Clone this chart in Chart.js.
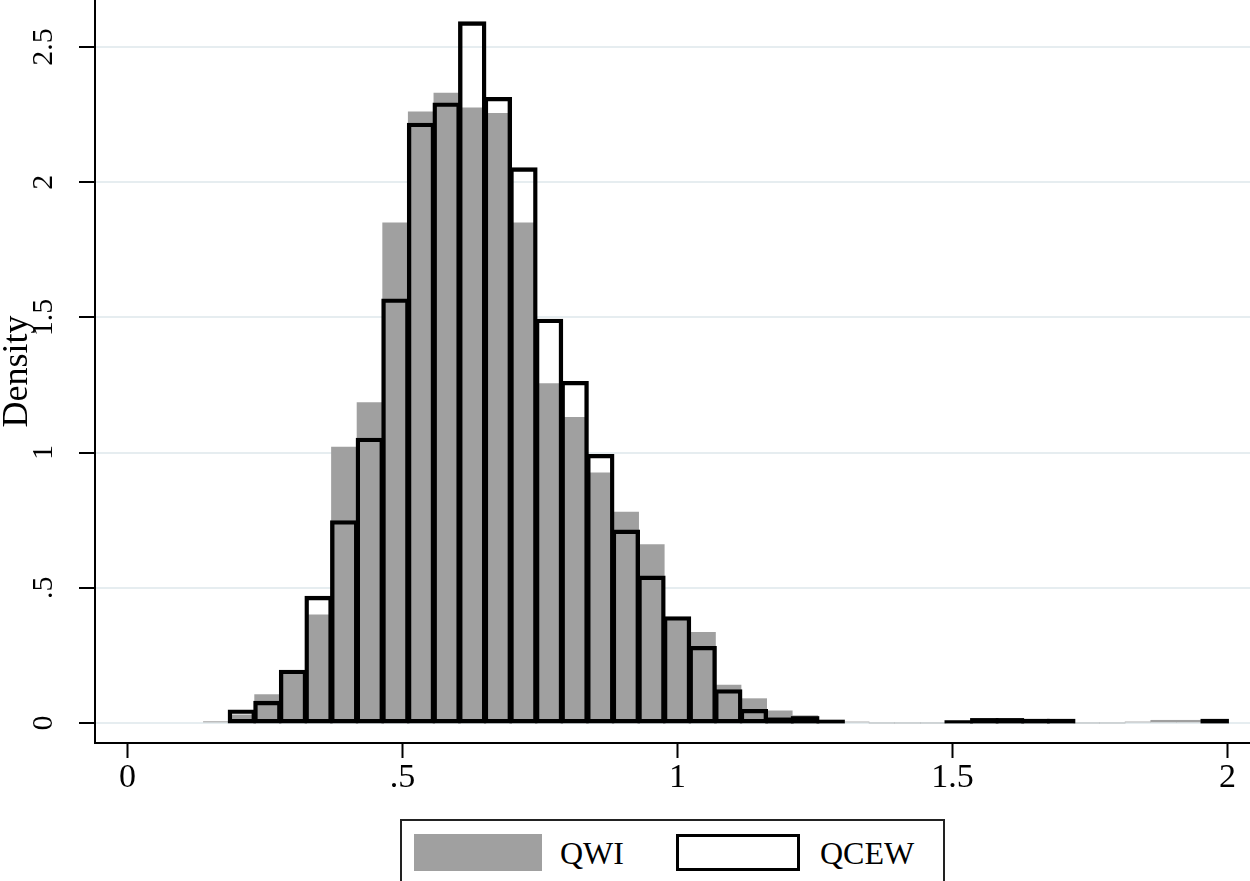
<!DOCTYPE html>
<html lang="en">
<head>
<meta charset="UTF-8">
<title>QWI vs QCEW density</title>
<script src="https://cdn.jsdelivr.net/npm/chart.js"></script>
<style>
  body { margin: 0; background: #fff; overflow: hidden; }
  #wrap { position: relative; width: 1250px; height: 881px; }
  #legend {
    position: absolute; left: 400px; top: 819px; width: 545px; height: 80px;
    border: 2px solid #222; box-sizing: border-box; background: #fff;
    font-family: "Liberation Serif", "Times New Roman", serif; font-size: 32px; color: #000;
  }
  #legend .sw { position: absolute; top: 13px; height: 37px; box-sizing: border-box; }
  #legend .lbl { position: absolute; top: 14px; line-height: 37px; }
</style>
</head>
<body>
<div id="wrap">
  <canvas id="histChart"></canvas>
  <div id="legend">
    <div class="sw" style="left:12px; width:128px; background:#a0a0a0;"></div>
    <div class="lbl" style="left:158px;">QWI</div>
    <div class="sw" style="left:274px; width:124px; border:3px solid #000; background:#fff;"></div>
    <div class="lbl" style="left:418px;">QCEW</div>
  </div>
</div>
<script>
// left edge of each histogram bin (shared by both series)
const binLeft = [0.1380, 0.1846, 0.2311, 0.2777, 0.3242, 0.3708, 0.4173, 0.4639, 0.5104, 0.5570,
                 0.6035, 0.6501, 0.6966, 0.7432, 0.7897, 0.8363, 0.8828, 0.9294, 0.9759, 1.0225,
                 1.0690, 1.1156, 1.1621, 1.2087, 1.2552, 1.3018, 1.3483, 1.3949, 1.4414, 1.4880,
                 1.5345, 1.5811, 1.6276, 1.6742, 1.7207, 1.7673, 1.8138, 1.8604, 1.9069, 1.9535];
const binWidth = 0.04655;

// densities
const qwi  = [0.005, 0.030, 0.105, 0.185, 0.400, 1.020, 1.185, 1.850, 2.260, 2.330,
              2.275, 2.255, 1.850, 1.255, 1.130, 0.925, 0.780, 0.660, 0.385, 0.335,
              0.140, 0.090, 0.045, 0.027, 0.005, 0.004, 0, 0, 0, 0.004,
              0.008, 0.008, 0.006, 0.006, 0, 0, 0.004, 0.010, 0.010, 0.008];
const qcew = [0, 0.045, 0.077, 0.192, 0.465, 0.745, 1.050, 1.565, 2.215, 2.290,
              2.590, 2.310, 2.050, 1.490, 1.260, 0.990, 0.710, 0.540, 0.390, 0.280,
              0.120, 0.047, 0.015, 0.020, 0.007, 0, 0, 0, 0, 0.005,
              0.013, 0.013, 0.010, 0.010, 0, 0, 0, 0, 0, 0.010];

const xTickValues = [0, 0.5, 1, 1.5, 2];
const xTickLabels = ['0', '.5', '1', '1.5', '2'];
const yTickValues = [0, 0.5, 1, 1.5, 2, 2.5];
const yTickLabels = ['0', '.5', '1', '1.5', '2', '2.5'];

const serif = '"Liberation Serif", "Times New Roman", serif';

function toPoints(vals) {
    return vals.map((v, i) => ({ x: binLeft[i] + binWidth / 2, y: v }));
}

// very short outline bars collapse into a solid black strip, as in the original
const isSliver = c => c.raw && c.raw.y > 0 && c.raw.y < 0.025;

const ctx = document.getElementById('histChart').getContext('2d');
const histChart = new Chart(ctx, {
    type: 'bar',
    data: {
        datasets: [{
            label: 'QCEW',
            data: toPoints(qcew),
            order: 0,
            grouped: false,
            backgroundColor: c => isSliver(c) ? '#000' : 'rgba(255,255,255,0)',
            borderColor: '#000',
            // border + inflate so the outline sits roughly centred on the bin edges
            borderWidth: c => isSliver(c) ? 0 : 1.6,
            inflateAmount: 1.4,
            borderSkipped: false,
            barPercentage: 1,
            categoryPercentage: 1
        }, {
            label: 'QWI',
            data: toPoints(qwi),
            order: 1,
            grouped: false,
            backgroundColor: '#a0a0a0',
            borderWidth: 0,
            barPercentage: 1,
            categoryPercentage: 1
        }]
    },
    options: {
        responsive: true,
        maintainAspectRatio: false,
        animation: false,
        layout: { padding: 0 },
        plugins: { legend: { display: false }, tooltip: { enabled: false } },
        scales: {
            x: {
                type: 'linear',
                min: -0.0591,
                max: 2.0409,
                offset: false,
                afterBuildTicks: s => { s.ticks = xTickValues.map(v => ({ value: v })); },
                afterFit: s => { s.height = 138; s.paddingLeft = 0; s.paddingRight = 0; },
                border: { display: true, color: '#000', width: 2 },
                grid: { offset: false, drawOnChartArea: false, drawTicks: true, tickLength: 15, tickColor: '#000', tickWidth: 2 },
                ticks: {
                    callback: (v, i) => xTickLabels[i],
                    color: '#000',
                    padding: 0,
                    maxRotation: 0,
                    font: { family: serif, size: 34 }
                }
            },
            y: {
                min: -0.074,
                max: 2.6738,
                afterBuildTicks: s => { s.ticks = yTickValues.map(v => ({ value: v })); },
                afterFit: s => { s.width = 95; s.paddingTop = 0; s.paddingBottom = 0; },
                border: { display: true, color: '#000', width: 2 },
                grid: { color: '#e6edf0', lineWidth: 2, drawTicks: true, tickLength: 16, tickColor: '#000', tickWidth: 2 },
                ticks: {
                    callback: (v, i) => yTickLabels[i],
                    color: '#000',
                    padding: 16,
                    minRotation: 90,
                    maxRotation: 90,
                    crossAlign: 'center',
                    font: { family: serif, size: 30 }
                },
                title: {
                    display: true,
                    text: 'Density',
                    color: '#000',
                    padding: { top: 6, bottom: 0 },
                    font: { family: serif, size: 36, lineHeight: 0.65 }
                }
            }
        }
    }
});
</script>
</body>
</html>
